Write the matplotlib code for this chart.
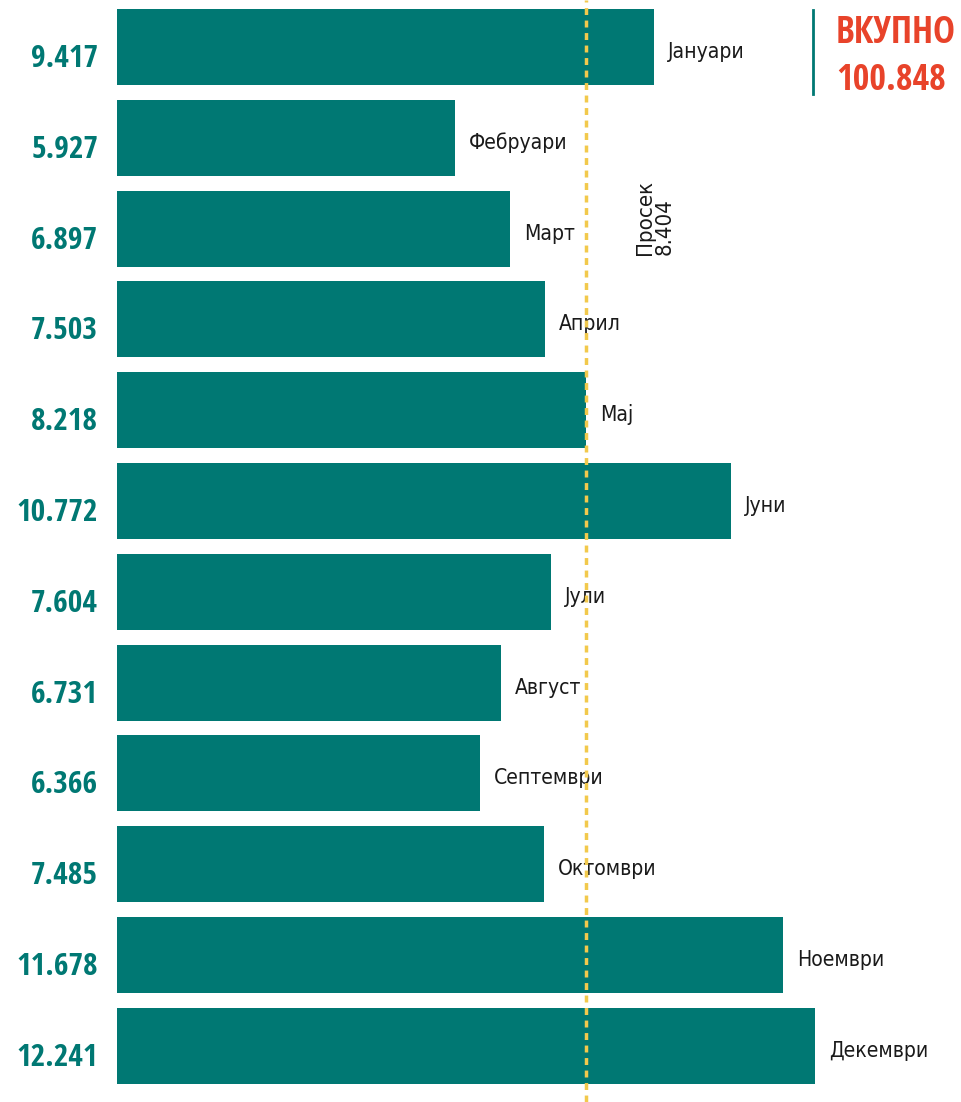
import matplotlib.pyplot as plt
from matplotlib import font_manager
from matplotlib.font_manager import FontProperties

months = ['Јануари', 'Фебруари', 'Март', 'Април', 'Мај', 'Јуни',
          'Јули', 'Август', 'Септември', 'Октомври', 'Ноември', 'Декември']
values = [9.417, 5.927, 6.897, 7.503, 8.218, 10.772,
          7.604, 6.731, 6.366, 7.485, 11.678, 12.241]
value_labels = ['9.417', '5.927', '6.897', '7.503', '8.218', '10.772',
                '7.604', '6.731', '6.366', '7.485', '11.678', '12.241']
avg_label = '8.404'
avg_line = 8.23   # where the dotted line sits in the picture
total_label = '100.848'

teal = '#007873'
red = '#e8432a'
gold = '#f2c94c'

# narrowest bold face we can find for the big numbers
bold_fp = FontProperties(family='DejaVu Sans', stretch='condensed', weight='bold')
for cand in ['Noto Sans ExtraCondensed', 'Noto Sans Condensed',
             'Open Sans Condensed', 'Roboto Condensed', 'Liberation Sans Narrow']:
    hits = [f for f in font_manager.fontManager.ttflist
            if f.name == cand and f.style == 'normal'
            and isinstance(f.weight, int) and f.weight >= 600]
    if hits:
        hits.sort(key=lambda f: (abs(f.weight - 700), f.fname))
        bold_fp = FontProperties(fname=hits[0].fname)
        break

# plain labels
plain = dict(family=['DejaVu Sans'], fontstretch='condensed',
             fontweight='normal', color='#1a1a1a')

W, H = 962, 1102
fig = plt.figure(figsize=(W / 100, H / 100), dpi=100)
left = 117 / W
ax = fig.add_axes([left, 0, 1 - left, 1])
px = 0.05703  # pixels per unit in the reference
ax.set_xlim(0, (W - 117) / px / 1000)

pitch = 90.8
ax.set_ylim((H - 47) / pitch, -47 / pitch)
ax.axis('off')

ypos = list(range(len(values)))
ax.barh(ypos, values, height=0.837, color=teal)

mlabels, vlabels = [], []
for y, v, m, lab in zip(ypos, values, months, value_labels):
    mlabels.append(ax.annotate(m, xy=(v, y), xytext=(14, -11),
                               textcoords='offset pixels', ha='left',
                               va='baseline', fontsize=15, **plain))
    t = ax.annotate(lab, xy=(0, y), xytext=(-19, -20),
                    textcoords='offset pixels', ha='right',
                    va='baseline', fontproperties=bold_fp, color=teal)
    t.set_fontsize(29)
    vlabels.append(t)

ax.axvline(avg_line, color=gold, lw=2.5, ls=(0, (2, 1.6)), zorder=3)

avg_txt = fig.text(655 / W, 1 - 255 / H, 'Просек\n' + avg_label,
                   rotation=90, ha='center', va='bottom', multialignment='left',
                   fontsize=15, linespacing=1.0, **plain)

fig.add_artist(plt.Line2D([813 / W, 813 / W], [1 - 10 / H, 1 - 94 / H],
                          color=teal, lw=2))
t1 = fig.text(836 / W, 1 - 43 / H, 'ВКУПНО', ha='left', va='baseline',
              fontproperties=bold_fp, color=red)
t2 = fig.text(836 / W, 1 - 90 / H, total_label, ha='left', va='baseline',
              fontproperties=bold_fp, color=red)
t1.set_fontsize(30)
t2.set_fontsize(30)

# scale text sizes so the widths match the reference
fig.canvas.draw()
r = fig.canvas.get_renderer()


def fit(texts, ref_text, width, along_y=False):
    bb = ref_text.get_window_extent(r)
    k = width / (bb.height if along_y else bb.width)
    for t in texts:
        t.set_fontsize(t.get_fontsize() * k)


fit(vlabels, vlabels[-1], 81)
fit(mlabels, mlabels[0], 77)
fit([t1], t1, 120)
fit([t2], t2, 110)
fit([avg_txt], avg_txt, 75, along_y=True)

fig.savefig('out.png', dpi=100)
